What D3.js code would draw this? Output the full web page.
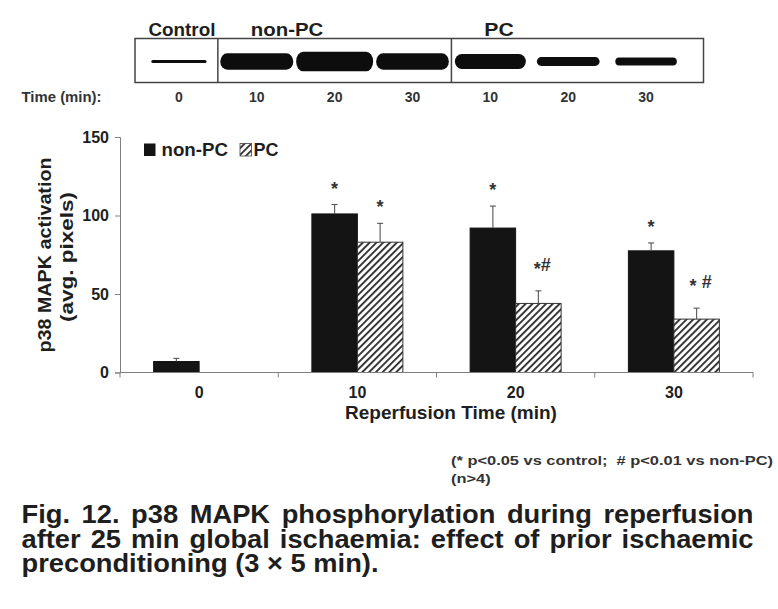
<!DOCTYPE html>
<html>
<head>
<meta charset="utf-8">
<script src="https://cdn.jsdelivr.net/npm/d3@7"></script>
<style>
  html, body { margin: 0; padding: 0; background: #fff; }
  svg { display: block; font-family: "Liberation Sans", Arial, Helvetica, sans-serif; font-weight: bold; }
  text { fill: #1e1e1e; }
</style>
</head>
<body>
<svg id="chart" width="778" height="609"></svg>
<script>
// ---------- data ----------
const categories = ["0", "10", "20", "30"];
const series = ["non-PC", "PC"];
const nonPCValues = [7, 101, 92, 77.5];
const nonPCErrors = [2, 6, 14, 5];
const pcValues = [null, 83, 44, 34];
const pcErrors = [null, 12, 8, 7];
const nonPCMarks = ["", "*", "*", "*"];
const pcMarks = ["", "*", "*#", "* #"];
const yTicks = [0, 50, 100, 150];

const blotLanes = ["0", "10", "20", "30", "10", "20", "30"];
const blotDensity = [13, 84, 100, 83, 76, 43, 38];   // relative band intensity
const blotGroups = ["Control", "non-PC", "PC"];
const blotGroupStart = [0, 1, 4];

const footnotes = ["(* p<0.05 vs control;  # p<0.01 vs non-PC)", "(n>4)"];
const captionLines = [
  "Fig. 12. p38 MAPK phosphorylation during reperfusion",
  "after 25 min global ischaemia: effect of prior ischaemic",
  "preconditioning (3 \u00d7 5 min)."
];

// ---------- setup ----------
const svg = d3.select("#chart");
const defs = svg.append("defs");
const pat = defs.append("pattern")
  .attr("id", "hatch").attr("patternUnits", "userSpaceOnUse")
  .attr("width", 4.8).attr("height", 4.8)
  .attr("patternTransform", "rotate(45)");
pat.append("rect").attr("width", 4.8).attr("height", 4.8).attr("fill", "#fff");
pat.append("rect").attr("x", 0).attr("width", 1.8).attr("height", 4.8).attr("fill", "#2a2a2a");
defs.append("filter").attr("id", "soft")
  .append("feGaussianBlur").attr("stdDeviation", 0.7);

function fitWidth(sel, w) {
  sel.attr("textLength", w).attr("lengthAdjust", "spacingAndGlyphs");
  return sel;
}

// ---------- blot ----------
const lane = d3.scaleBand().domain(d3.range(blotLanes.length)).range([140, 685]);
const bandH = d3.scaleLinear().domain([0, 100]).range([0.6, 19.6]);
const bandW = d3.scaleLinear().domain([0, 100]).range([52, 77]);
const blotTop = 38.5, blotBottom = 82.5, blotMid = 61.5;

svg.append("rect").attr("x", 135).attr("y", blotTop)
  .attr("width", 703.5 - 135).attr("height", blotBottom - blotTop)
  .attr("fill", "none").attr("stroke", "#444").attr("stroke-width", 1.5);
[1, 4].forEach(i => {
  svg.append("line").attr("x1", lane(i)).attr("x2", lane(i))
    .attr("y1", blotTop).attr("y2", blotBottom)
    .attr("stroke", "#444").attr("stroke-width", 1.5);
});
svg.append("g").attr("filter", "url(#soft)").selectAll("rect")
  .data(blotDensity).join("rect")
  .attr("x", (d, i) => lane(i) + lane.bandwidth() / 2 - bandW(d) / 2)
  .attr("y", d => blotMid - bandH(d) / 2)
  .attr("width", d => bandW(d))
  .attr("height", d => bandH(d))
  .attr("rx", d => Math.min(bandH(d) / 2, 7)).attr("ry", d => bandH(d) / 2)
  .attr("fill", "#111");

const grpWidths = [67, 72.5, 29.5];
svg.selectAll(".grp").data(blotGroups).join("text").attr("class", "grp")
  .attr("x", (d, i) => i === 0 ? lane(0) + lane.bandwidth() / 2 + 3 : lane(blotGroupStart[i]) + lane.bandwidth() / 2 - 6)
  .attr("y", 36)
  .attr("text-anchor", (d, i) => i === 0 ? "middle" : "start")
  .attr("font-size", 17.5)
  .attr("textLength", (d, i) => grpWidths[i]).attr("lengthAdjust", "spacingAndGlyphs")
  .text(d => d);

fitWidth(svg.append("text").attr("x", 21.5).attr("y", 101.5).attr("font-size", 14)
  .style("fill", "#333").text("Time (min):"), 80);
svg.selectAll(".lane").data(blotLanes).join("text").attr("class", "lane")
  .attr("x", (d, i) => lane(i) + lane.bandwidth() / 2)
  .attr("y", 101.5).attr("text-anchor", "middle").attr("font-size", 14)
  .style("fill", "#333").text(d => d);

// ---------- bar chart ----------
const x0 = 120, x1 = 753, yBase = 372.5, yTop = 137;
const x = d3.scaleBand().domain(categories).range([x0, x1])
  .paddingInner(0.425).paddingOuter(0.2125);
const xs = d3.scaleBand().domain(series).range([0, x.bandwidth()]);
const y = d3.scaleLinear().domain([0, 150]).range([yBase, yTop]);

const rows = [];
categories.forEach((c, i) => {
  rows.push({ cat: c, s: "non-PC", v: nonPCValues[i], e: nonPCErrors[i], m: nonPCMarks[i] });
  if (pcValues[i] != null)
    rows.push({ cat: c, s: "PC", v: pcValues[i], e: pcErrors[i], m: pcMarks[i] });
});

svg.append("g").selectAll("rect").data(rows).join("rect")
  .attr("x", d => x(d.cat) + xs(d.s))
  .attr("y", d => y(d.v))
  .attr("width", xs.bandwidth())
  .attr("height", d => y(0) - y(d.v))
  .attr("fill", d => d.s === "PC" ? "url(#hatch)" : "#141414")
  .attr("stroke", d => d.s === "PC" ? "#333" : "#141414")
  .attr("stroke-width", 1);

// error bars
const gErr = svg.append("g").attr("stroke", "#555").attr("stroke-width", 1.1);
rows.forEach(d => {
  const cx = x(d.cat) + xs(d.s) + xs.bandwidth() / 2;
  gErr.append("line").attr("x1", cx).attr("x2", cx).attr("y1", y(d.v)).attr("y2", y(d.v + d.e));
  gErr.append("line").attr("x1", cx - 3).attr("x2", cx + 3).attr("y1", y(d.v + d.e)).attr("y2", y(d.v + d.e));
});

// significance marks
rows.filter(d => d.m).forEach(d => {
  const cx = x(d.cat) + xs(d.s) + xs.bandwidth() / 2;
  const hasHash = d.m.includes("#");
  const t = svg.append("text").attr("x", cx + (hasHash ? 4 : 0))
    .attr("y", y(d.v + d.e) - (hasHash ? 20 : 10))
    .attr("text-anchor", "middle").attr("font-size", 18).style("fill", "#333")
    .style("white-space", "pre");
  if (hasHash) {
    [...d.m].forEach(ch => {
      t.append("tspan").attr("dy", ch === "*" ? 4 : (ch === "#" ? -4 : 0)).text(ch);
    });
  } else {
    t.text(d.m);
  }
});

// axes
const axisColor = "#808080";
const yAxis = svg.append("g").attr("transform", `translate(${x0},0)`)
  .call(d3.axisLeft(y).tickValues(yTicks).tickSize(5).tickPadding(6));
yAxis.selectAll("path, line").attr("stroke", axisColor);
yAxis.selectAll("text").attr("font-size", 16).attr("font-weight", "bold")
  .attr("font-family", "Liberation Sans, Arial, sans-serif").style("fill", "#1e1e1e");

const xAxis = svg.append("g").attr("transform", `translate(0,${yBase})`)
  .call(d3.axisBottom(x).tickSize(0).tickPadding(14));
xAxis.select(".domain").attr("stroke", axisColor).attr("d", `M${x0},0H${x1}`);
xAxis.selectAll("text").attr("font-size", 16).attr("font-weight", "bold")
  .attr("font-family", "Liberation Sans, Arial, sans-serif").style("fill", "#1e1e1e");
d3.range(categories.length + 1).forEach(i => {
  const bx = x0 + i * x.step();
  svg.append("line").attr("x1", bx).attr("x2", bx).attr("y1", yBase).attr("y2", yBase + 5)
    .attr("stroke", axisColor);
});

// axis titles
svg.append("text").attr("x", 451).attr("y", 419).attr("text-anchor", "middle")
  .attr("font-size", 19).text("Reperfusion Time (min)");
fitWidth(svg.append("text").attr("transform", "translate(51,255) rotate(-90)")
  .attr("text-anchor", "middle").attr("font-size", 18.5)
  .text("p38 MAPK activation"), 195);
fitWidth(svg.append("text").attr("transform", "translate(73,257) rotate(-90)")
  .attr("text-anchor", "middle").attr("font-size", 18.5)
  .text("(avg. pixels)"), 130);

// legend
const lg = svg.append("g");
lg.append("rect").attr("x", 144).attr("y", 143.5).attr("width", 11.5).attr("height", 12.5).attr("fill", "#141414");
fitWidth(lg.append("text").attr("x", 161.5).attr("y", 156).attr("font-size", 18).text(series[0]), 66.5);
lg.append("rect").attr("x", 240).attr("y", 143.5).attr("width", 11.5).attr("height", 12.5)
  .attr("fill", "url(#hatch)").attr("stroke", "#444").attr("stroke-width", 0.8);
fitWidth(lg.append("text").attr("x", 253.5).attr("y", 156).attr("font-size", 18).text(series[1]), 25);

// footnotes
const fnNodes = svg.selectAll(".fn").data(footnotes).join("text").attr("class", "fn")
  .attr("x", 451).attr("y", (d, i) => 465 + i * 18.3)
  .attr("font-size", 13).style("fill", "#333").style("white-space", "pre")
  .text(d => d);
const fnScale = 322 / fnNodes.nodes()[0].getComputedTextLength();
fnNodes.each(function () {
  const w = this.getComputedTextLength() * fnScale;
  d3.select(this).attr("textLength", w).attr("lengthAdjust", "spacingAndGlyphs");
});

// caption: one text block, three justified lines
const capX0 = 21.5, capX1 = 753.5, capStretch = 1.05;
const capBase = [523.5, 548.3, 572];
const cap = svg.append("text")
  .attr("transform", `translate(${capX0},0) scale(${capStretch},1)`)
  .attr("font-size", 26).style("fill", "#1e1e1e").style("white-space", "pre");
captionLines.forEach((line, li) => {
  const ts = cap.append("tspan").attr("x", 0).attr("y", capBase[li]).text(line);
  if (li < captionLines.length - 1) {
    const w = ts.node().getComputedTextLength();
    const nSp = line.split(" ").length - 1;
    const extra = ((capX1 - capX0) / capStretch - w) / nSp;
    ts.attr("word-spacing", extra).style("word-spacing", extra + "px");
  }
});
</script>
</body>
</html>
